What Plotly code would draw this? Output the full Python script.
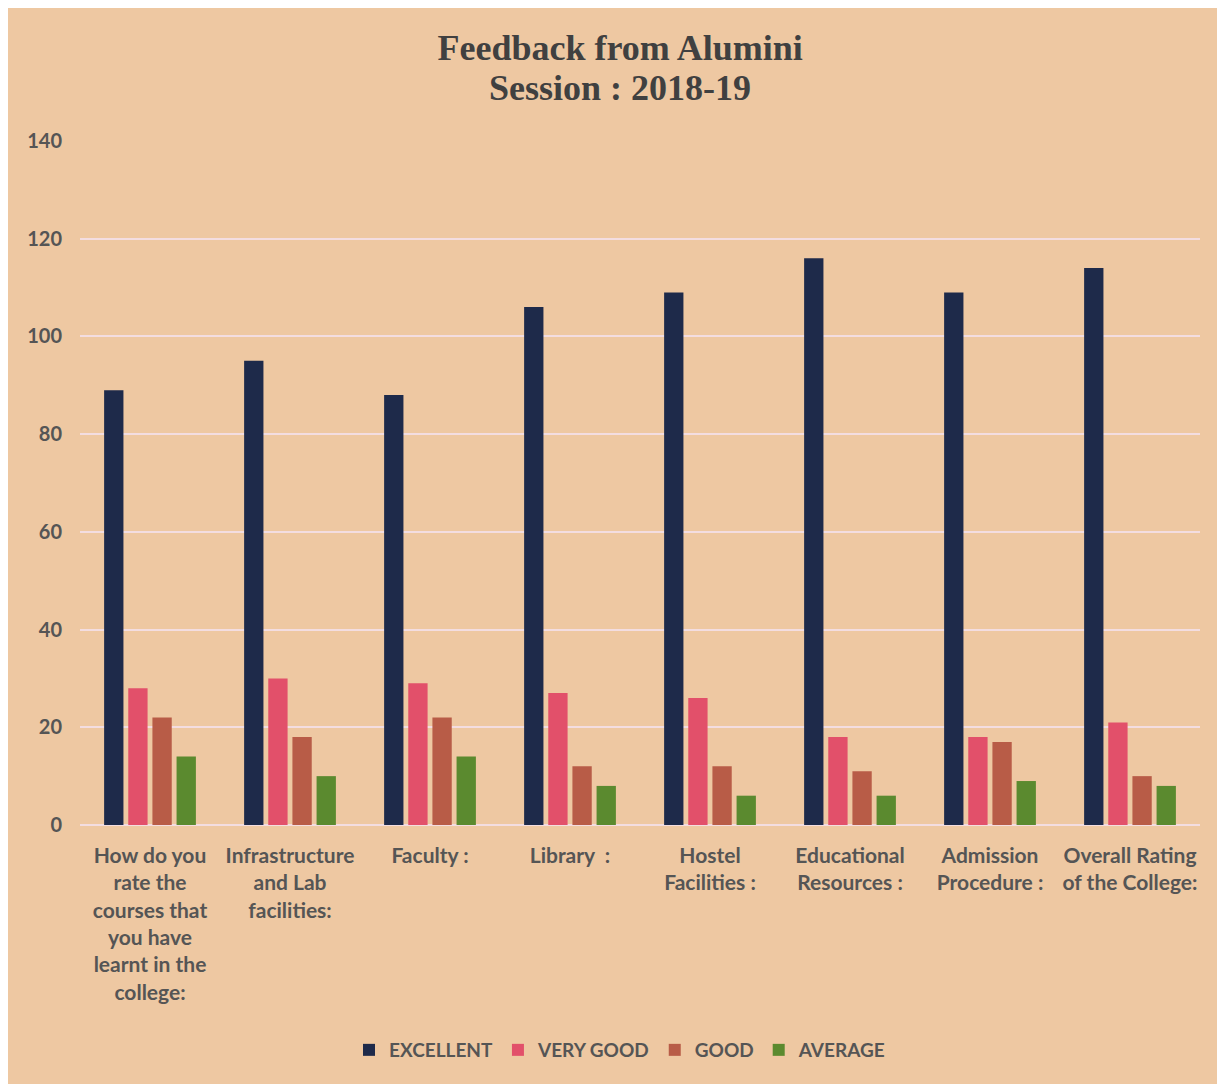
import plotly.graph_objects as go

categories = [
    "How do you<br>rate the<br>courses that<br>you have<br>learnt in the<br>college:",
    "Infrastructure<br>and Lab<br>facilities:",
    "Faculty :",
    "Library  :",
    "Hostel<br>Facilities :",
    "Educational<br>Resources :",
    "Admission<br>Procedure :",
    "Overall Rating<br>of the College:",
]
excellent = [89, 95, 88, 106, 109, 116, 109, 114]
very_good = [28, 30, 29, 27, 26, 18, 18, 21]
good = [22, 18, 22, 12, 12, 11, 17, 10]
average = [14, 10, 14, 8, 6, 6, 9, 8]

title_line1 = "Feedback from Alumini"
title_line2 = "Session : 2018-19"

series = [
    ("EXCELLENT", excellent, "#1e2a4a"),
    ("VERY GOOD", very_good, "#e2506a"),
    ("GOOD", good, "#b85c47"),
    ("AVERAGE", average, "#5b8a2f"),
]

fig = go.Figure()
for name, vals, color in series:
    fig.add_trace(go.Bar(x=categories, y=vals, name=name, marker_color=color,
                         marker_line_width=0))

FONT = "Lato, Open Sans, sans-serif"
TFONT = dict(family="Liberation Serif, Times New Roman, serif", size=36,
             color="#404040", weight="bold")
W, H = 1217, 1076
L, R, T, B = 72, 25, 133, 259
plot_h = H - T - B

fig.update_layout(
    width=W, height=H,
    paper_bgcolor="#eec8a2",
    plot_bgcolor="#eec8a2",
    margin=dict(l=L, r=R, t=T, b=B),
    title=dict(
        text=title_line1, font=TFONT,
        x=0.503, xanchor="center", y=1 - 39 / H, yanchor="middle",
    ),
    barmode="group",
    bargap=0.31,
    bargroupgap=0.2,
    showlegend=True,
    legend=dict(
        orientation="h", x=(612 - L) / (W - L - R), xanchor="center",
        y=-(1042 - (H - B)) / plot_h, yanchor="middle",
        font=dict(family=FONT, size=19, color="#555555", weight="bold"),
        bgcolor="rgba(0,0,0,0)", itemwidth=30,
    ),
    xaxis=dict(
        tickfont=dict(family=FONT, size=21, color="#555555", weight="bold"),
        showgrid=False, showline=False, ticks="",
        tickangle=0, automargin=False, ticklabelstandoff=16,
    ),
    yaxis=dict(
        range=[0, 140], dtick=20, tick0=0,
        tickfont=dict(family=FONT, size=20, color="#555555", weight="bold"),
        showgrid=True, gridcolor="#f3dde0", gridwidth=2,
        zeroline=True, zerolinecolor="#f3dde0", zerolinewidth=2,
        showline=False, ticks="", ticklabelstandoff=17, automargin=False,
    ),
    annotations=[
        dict(text=title_line2, font=TFONT, showarrow=False,
             xref="paper", yref="paper",
             x=(612 - L) / (W - L - R), xanchor="center",
             y=(H - B - 80) / plot_h, yanchor="middle"),
    ],
)

fig.write_html("out.html")
